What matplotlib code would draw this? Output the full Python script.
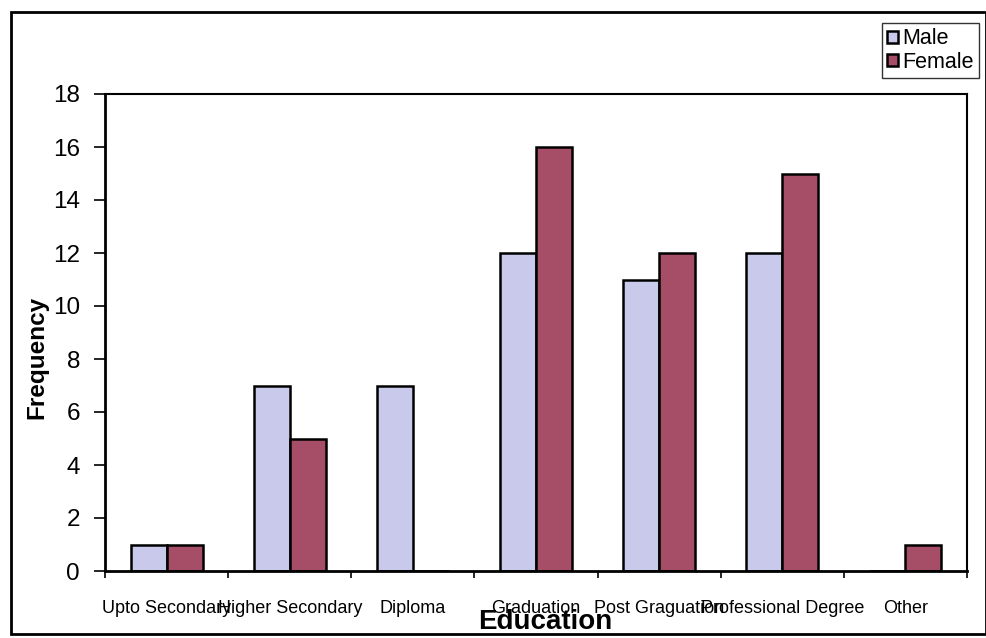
import matplotlib
matplotlib.use("Agg")
import numpy as np
from matplotlib import pyplot as plt
from matplotlib.patches import Rectangle

plt.rcParams['font.family'] = ['Liberation Sans', 'DejaVu Sans']

categories = ['Upto Secondary', 'Higher Secondary', 'Diploma', 'Graduation',
              'Post Graguation', 'Professional Degree', 'Other']
male = [1, 7, 7, 12, 11, 12, 0]
female = [1, 5, 0, 16, 12, 15, 1]

male_col = '#c9c9ec'
female_col = '#a64e68'

fig = plt.figure(figsize=(9.87, 6.38), dpi=100)
ax = fig.add_axes([105/987, 1-571/638, (967-105)/987, (571-94)/638])

x = np.arange(len(categories))
w = 0.292
ax.bar(x - w/2, male, w, color=male_col, edgecolor='black', linewidth=1.8, label='Male')
ax.bar(x + w/2, female, w, color=female_col, edgecolor='black', linewidth=1.8, label='Female')

ax.set_xlim(-0.5, len(categories) - 0.5)
ax.set_ylim(0, 18)
ax.set_yticks(np.arange(0, 19, 2))
ax.tick_params(axis='y', direction='out', length=8, width=1.2, pad=10, labelsize=17.5)

# boundaries get ticks, centres get labels
ax.set_xticks(np.arange(-0.5, len(categories)), minor=False)
ax.set_xticklabels([])
ax.set_xticks(x, minor=True)
ax.set_xticklabels(categories, minor=True, fontsize=13)
ax.tick_params(axis='x', which='major', direction='out', length=5, width=1.2)
ax.tick_params(axis='x', which='minor', length=0, pad=21)

for s in ['left', 'bottom']:
    ax.spines[s].set_linewidth(2)
for s in ['top', 'right']:
    ax.spines[s].set_linewidth(1.5)

fig.text(37/987, 1-357/638, 'Frequency', rotation=90, ha='center', va='center',
         fontsize=17.5, fontweight='bold')
fig.text(545/987, 1-622/638, 'Education', ha='center', va='center',
         fontsize=20, fontweight='bold')

leg = ax.legend(loc='upper left', bbox_to_anchor=(882/987, 1-23/638),
                bbox_transform=fig.transFigure, borderaxespad=0, fontsize=15.5,
                handlelength=0.5, handleheight=0.5, handletextpad=0.2,
                labelspacing=0.1, borderpad=0.25, fancybox=False, frameon=True)
leg.get_frame().set_edgecolor('black')
leg.get_frame().set_linewidth(1)

fig.patches.append(Rectangle((11/987, 4/638), (986-11)/987, (626-4)/638,
                             transform=fig.transFigure, fill=False,
                             edgecolor='black', linewidth=2))

fig.savefig('out.png', dpi=100)
